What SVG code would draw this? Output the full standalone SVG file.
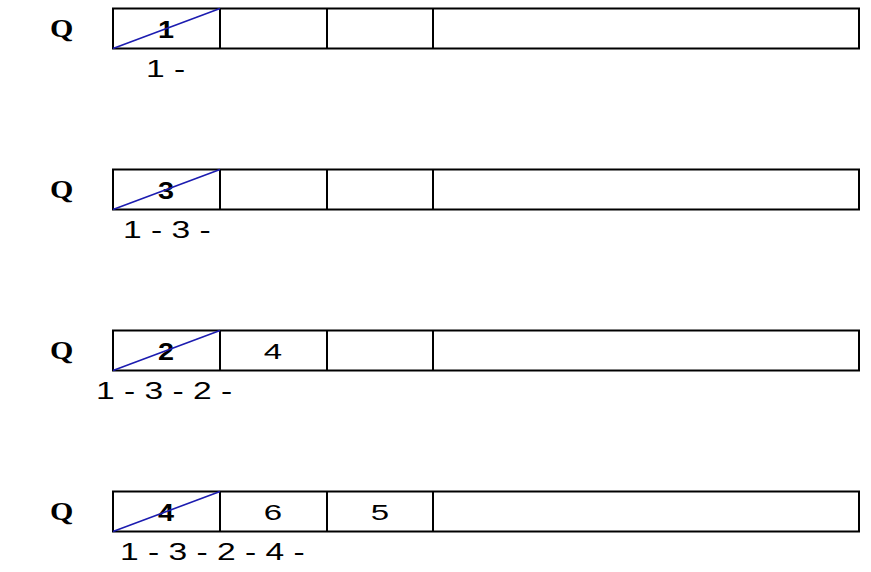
<svg xmlns="http://www.w3.org/2000/svg" width="871" height="572" viewBox="0 0 871 572">
<style>
.box{fill:#fff;stroke:#000;stroke-width:2}
.div{stroke:#000;stroke-width:2}
.slash{stroke:#1c1cb0;stroke-width:1.6}
.q{font-family:"Liberation Serif",serif;font-weight:bold;font-size:25px}
.bn{font-family:"Liberation Sans",sans-serif;font-weight:bold;font-size:24px;text-anchor:middle}
.n{font-family:"Liberation Sans",sans-serif;font-size:22px;text-anchor:middle}
.seq{font-family:"Liberation Sans",sans-serif;font-size:24px}
</style>
<rect width="871" height="572" fill="#fff"/>
<defs>
<g id="queue">
<rect class="box" x="113" y="0" width="746" height="40"/>
<line class="div" x1="220" y1="0" x2="220" y2="40"/>
<line class="div" x1="327" y1="0" x2="327" y2="40"/>
<line class="div" x1="433" y1="0" x2="433" y2="40"/>
</g>
</defs>
<g id="row1" transform="translate(0,8.5)">
<text class="q" transform="translate(50,28) scale(1.2,1)">Q</text>
<use href="#queue"/>
<text class="bn" transform="translate(166,29) scale(1.2,1)">1</text>
<line class="slash" x1="113" y1="40" x2="220" y2="0"/>
<text class="seq" transform="translate(146,68) scale(1.4,1)">1 -</text>
</g>
<g id="row2" transform="translate(0,169.5)">
<text class="q" transform="translate(50,28) scale(1.2,1)">Q</text>
<use href="#queue"/>
<text class="bn" transform="translate(166,29) scale(1.2,1)">3</text>
<line class="slash" x1="113" y1="40" x2="220" y2="0"/>
<text class="seq" transform="translate(123,68) scale(1.4,1)">1 - 3 -</text>
</g>
<g id="row3" transform="translate(0,330.5)">
<text class="q" transform="translate(50,28) scale(1.2,1)">Q</text>
<use href="#queue"/>
<text class="bn" transform="translate(166,29) scale(1.2,1)">2</text>
<text class="n" transform="translate(273,28) scale(1.5,1)">4</text>
<line class="slash" x1="113" y1="40" x2="220" y2="0"/>
<text class="seq" transform="translate(96,68) scale(1.4,1)">1 - 3 - 2 -</text>
</g>
<g id="row4" transform="translate(0,491.5)">
<text class="q" transform="translate(50,28) scale(1.2,1)">Q</text>
<use href="#queue"/>
<text class="bn" transform="translate(166,29) scale(1.2,1)">4</text>
<text class="n" transform="translate(273,28) scale(1.5,1)">6</text>
<text class="n" transform="translate(380,28) scale(1.5,1)">5</text>
<line class="slash" x1="113" y1="40" x2="220" y2="0"/>
<text class="seq" transform="translate(120,68) scale(1.4,1)">1 - 3 - 2 - 4 -</text>
</g>
<g id="connectors"></g>
</svg>
